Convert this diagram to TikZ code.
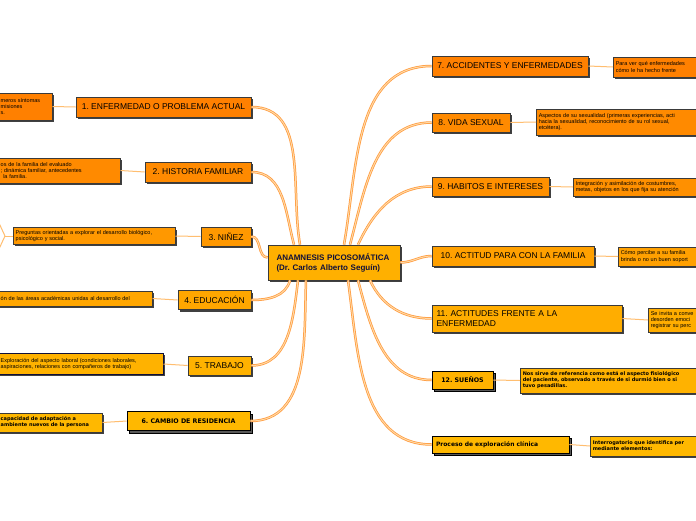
\documentclass[tikz,border=0pt]{standalone}
\usepackage{fontspec}
\setmainfont{Liberation Sans}
\newfontfamily\verdana{DejaVu Sans}
\usetikzlibrary{shadows}
\frenchspacing

\definecolor{edgegray}{HTML}{3A3A3A}
\definecolor{navy}{HTML}{10103A}
\definecolor{linkorange}{HTML}{FF9A3C}
\definecolor{linklight}{HTML}{FFD9A6}
\definecolor{twigorange}{HTML}{FFBE70}
\definecolor{hubfill}{HTML}{FFB000}
\definecolor{toneA}{HTML}{FF8000}
\definecolor{toneB}{HTML}{FF8A00}
\definecolor{toneC}{HTML}{FF9800}
\definecolor{toneD}{HTML}{FFA600}
\definecolor{toneE}{HTML}{FFB200}
\definecolor{toneF}{HTML}{FFB800}

\tikzset{
  topic/.style={draw=edgegray, line width=0.6pt, minimum height=20pt, inner sep=2pt,
    font=\fontsize{8.5}{10}\selectfont,
    drop shadow={shadow xshift=2pt, shadow yshift=-2pt, fill=black!75, opacity=1}},
  boldtopic/.style={draw=black, line width=0.6pt, minimum height=19pt, inner sep=2pt,
    font=\verdana\bfseries\fontsize{6.3}{7.5}\selectfont,
    general shadow={shadow xshift=2.5pt, shadow yshift=-2.5pt, fill=black!65, draw=black, opacity=1}},
  subtopic/.style={draw=edgegray, line width=0.5pt, anchor=west, align=left, inner sep=2.5pt,
    font=\fontsize{5.5}{6.4}\selectfont,
    drop shadow={shadow xshift=1.8pt, shadow yshift=-1.8pt, fill=black!75, opacity=1}},
  boldsub/.style={subtopic, font=\verdana\bfseries\fontsize{5}{6}\selectfont},
  branch/.style={draw=linkorange, double=linklight, double distance=1pt, line width=0.75pt},
  twig/.style={draw=twigorange, line width=1pt},
}

\begin{document}
\begin{tikzpicture}[x=1pt, y=1pt]
		%%%%% START %%%%%
		\useasboundingbox[fill=white] (0,0) rectangle (696,-520);
		
		% centre
		\node[draw=edgegray, line width=0.6pt, fill=hubfill, minimum width=132pt, minimum height=35pt,
		  text width=115pt, align=left, text=navy, font=\bfseries\fontsize{8}{10}\selectfont,
		  drop shadow={shadow xshift=2pt, shadow yshift=-2pt, fill=black!75, opacity=1}]
		  (hub) at (334,-262.5) {ANAMNESIS PICOSOMÁTICA\\(Dr. Carlos Alberto Seguín)};
		
		% left branches
		\node[topic, fill=toneA, minimum width=175pt] (t1) at (163.5,-107) {1. ENFERMEDAD O PROBLEMA ACTUAL};
		\node[topic, fill=toneB, minimum width=106pt] (t2) at (198,-172) {2. HISTORIA FAMILIAR};
		\node[topic, fill=toneC, minimum width=50pt, minimum height=19pt] (t3) at (226,-236.5) {3. NIÑEZ};
		\node[topic, fill=toneD, minimum width=73pt, minimum height=19pt] (t4) at (214.5,-300) {4. EDUCACIÓN};
		\node[topic, fill=toneE, minimum width=63pt, minimum height=19pt] (t5) at (219.5,-365.5) {5. TRABAJO};
		\node[boldtopic, fill=toneF, minimum width=123pt] (t6) at (188.5,-421) {6. CAMBIO DE RESIDENCIA};
		
		\node[subtopic, fill=toneA, minimum height=27pt, text width=49pt] (s1) at (-2,-106.5)
		  {meros síntomas\\misiones\\s.};
		\node[subtopic, fill=toneB, minimum height=25pt, text width=117pt] (s2) at (-2,-170.5)
		  {os de la familia del evaluado\\; dinámica familiar, antecedentes\\\hspace*{2.5pt}la familia.};
		\node[subtopic, fill=toneC, minimum height=16pt, text width=157pt] (s3) at (13,-236)
		  {Preguntas orientadas a explorar el desarrollo biológico,\\psicológico y social.};
		\node[subtopic, fill=toneD, minimum height=15pt, text width=149pt] (s4) at (-2,-298.5)
		  {ón de las áreas académicas unidas al desarrollo del};
		\node[subtopic, fill=toneE, draw=navy, minimum height=21pt, text width=160pt] (s5) at (-2,-364)
		  {Exploración del aspecto laboral (condiciones laborales,\\aspiraciones, relaciones con compañeros de trabajo)};
		\node[boldsub, fill=toneF, minimum height=19pt, text width=99pt] (s6) at (-2,-422.5)
		  {capacidad de adaptación a\\ambiente nuevos de la persona};
		
		% right branches
		\node[topic, fill=toneA, minimum width=156pt] (t7) at (510,-66) {7. ACCIDENTES Y ENFERMEDADES};
		\node[topic, fill=toneB, minimum width=78pt, minimum height=19pt] (t8) at (471,-122.5) {8. VIDA SEXUAL};
		\node[topic, fill=toneB!60!toneC, minimum width=117pt, minimum height=19pt] (t9) at (490.5,-186.5) {9. HABITOS E INTERESES};
		\node[topic, fill=toneC!40!toneD, minimum width=162pt] (t10) at (513,-256) {10. ACTITUD PARA CON LA FAMILIA};
		\node[topic, fill=toneD!40!toneE, minimum width=190pt, minimum height=27pt, text width=181pt, align=left,
		  font=\fontsize{8.5}{9.6}\selectfont] (t11) at (527,-318.5) {11. ACTITUDES FRENTE A LA\\ENFERMEDAD};
		\node[boldtopic, fill=toneE, minimum width=61pt, minimum height=18pt] (t12) at (462.5,-380) {12. SUEÑOS};
		\node[boldtopic, fill=toneF, minimum width=137pt, minimum height=17pt, text width=129pt, align=left,
		  font=\verdana\bfseries\fontsize{6}{7}\selectfont]
		  (t13) at (500.5,-444.5) {Proceso de exploración clínica};
		
		\node[subtopic, fill=toneA, minimum height=20pt, text width=102pt] (s7) at (613,-67)
		  {Para ver qué enfermedades\\cómo le ha hecho frente};
		\node[subtopic, fill=toneB, minimum height=26pt, text width=175pt] (s8) at (536,-122)
		  {Aspectos de su sexualidad (primeras experiencias, acti\\hacia la sexualidad, reconocimiento de su rol sexual,\\etcétera).};
		\node[subtopic, fill=toneB!60!toneC, minimum height=18pt, text width=135pt] (s9) at (573,-187)
		  {Integración y asimilación de costumbres,\\metas, objetos en los que fija su atención};
		\node[subtopic, fill=toneC!40!toneD, minimum height=19pt, text width=105pt] (s10) at (618,-256.5)
		  {Cómo percibe a su familia\\brinda o no un buen soport};
		\node[subtopic, fill=toneD!40!toneE, minimum height=24pt, text width=75pt] (s11) at (648,-320)
		  {Se invita a conve\\desorden emoci\\registrar su perc};
		\node[boldsub, fill=toneE, minimum height=25pt, text width=190pt] (s12) at (520,-380.5)
		  {Nos sirve de referencia como está el aspecto fisiológico\\del paciente, observado a través de si durmió bien o si\\tuvo pesadillas.};
		\node[boldsub, fill=toneF, minimum height=20pt, text width=125pt] (s13) at (590,-446)
		  {Interrogatorio que identifica per\\mediante elementos:};
		
		% links from the centre
		\draw[branch] ([xshift=-34pt]hub.north) to[out=100, in=0] (t1.east);
		\draw[branch] ([xshift=-40pt]hub.north) to[out=105, in=0] (t2.east);
		\draw[branch] ([yshift=5pt]hub.west) to[out=180, in=0] (t3.east);
		\draw[branch] ([xshift=-44pt]hub.south) to[out=-105, in=0] (t4.east);
		\draw[branch] ([xshift=-36pt]hub.south) to[out=-97, in=0] (t5.east);
		\draw[branch] ([xshift=-28pt]hub.south) to[out=-92, in=0] (t6.east);
		
		\draw[branch] ([xshift=10pt]hub.north) to[out=80, in=180] (t7.west);
		\draw[branch] ([xshift=16pt]hub.north) to[out=75, in=180] (t8.west);
		\draw[branch] ([xshift=24pt]hub.north) to[out=65, in=180] (t9.west);
		\draw[branch] (hub.east) to[out=0, in=180] (t10.west);
		\draw[branch] ([xshift=36pt]hub.south) to[out=-65, in=180] (t11.west);
		\draw[branch] ([xshift=24pt]hub.south) to[out=-75, in=180] (t12.west);
		\draw[branch] ([xshift=14pt]hub.south) to[out=-82, in=180] (t13.west);
		
		% links to the notes
		\draw[twig] (s1.east) -- (t1.west);
		\draw[twig] (s2.east) -- (t2.west);
		\draw[twig] (s3.east) -- (t3.west);
		\draw[twig] (s4.east) -- (t4.west);
		\draw[twig] (s5.east) -- (t5.west);
		\draw[twig] (s6.east) -- (t6.west);
		\draw[twig] (t7.east) -- (s7.west);
		\draw[twig] (t8.east) -- (s8.west);
		\draw[twig] (t9.east) -- (s9.west);
		\draw[twig] (t10.east) -- (s10.west);
		\draw[twig] (t11.east) -- (s11.west);
		\draw[twig] (t12.east) -- (s12.west);
		\draw[twig] (t13.east) -- (s13.west);
		
		% off-page children of 3
		\coordinate (k3) at (5,-236);
		\coordinate (k3a) at (-8,-208);
		\coordinate (k3b) at (-8,-264);
		\draw[twig] (s3.west) -- (k3);
		\draw[twig] (k3) -- (k3a);
		\draw[twig] (k3) -- (k3b);
		%%%%% END %%%%%
\end{tikzpicture}
\end{document}
